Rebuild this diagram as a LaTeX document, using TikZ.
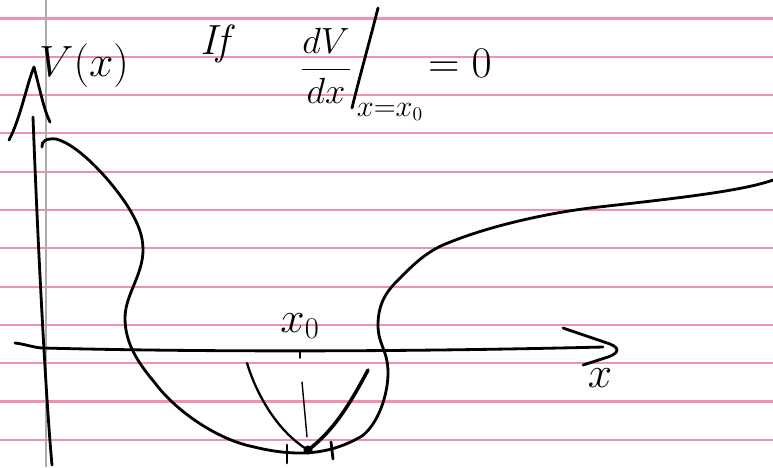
\documentclass[tikz,border=0pt]{standalone}
\usepackage{amsmath,amssymb}
\usepackage{tikz}
\usetikzlibrary{positioning}

\definecolor{rulepink}{RGB}{240,146,174}
\definecolor{margingray}{RGB}{172,172,172}

\tikzset{
  ink/.style={line width=1.6pt,line cap=round,line join=round},
  thinink/.style={line width=0.8pt,line cap=round},
  hand/.style={font=\fontsize{24}{28}\selectfont,inner sep=0pt},
}

\begin{document}
\begin{tikzpicture}[x=0.02cm,y=-0.02cm]
\useasboundingbox (0,0) rectangle (773,467);

% ruled paper
\foreach \k in {0,...,11}
  \draw[line width=1.2pt,rulepink] (0,18.5+38.3*\k) -- (773,18.5+38.3*\k);
\draw[line width=1.1pt,margingray] (46,0) -- (46,467);

% axes
\coordinate (ytop) at (34,67);
\coordinate (xtip) at (617,350);
\draw[ink] (33,117) .. controls (38,250) and (46,400) .. (52,465);
\draw[ink] (9,140) .. controls (20,120) and (28,80) .. (ytop)
           .. controls (40,90) and (44,110) .. (50,122);
\draw[ink] (15,343) .. controls (25,344) and (35,348) .. (43,348)
           .. controls (200,352) and (400,352) .. (603,347);
\draw[ink] (563,328) -- (610,344) .. controls (620,348) and (619,353) .. (608,357) -- (583,365);

% potential V(x)
\draw[ink] (42,147) .. controls (41,141) and (47,138) .. (56,139)
           .. controls (80,145) and (115,185) .. (130,210)
           .. controls (138,224) and (143,235) .. (143,250)
           .. controls (143,275) and (125,295) .. (125,318)
           .. controls (125,345) and (140,365) .. (155,383)
           .. controls (175,410) and (215,438) .. (250,446)
           .. controls (270,451) and (285,453) .. (300,453)
           .. controls (325,453) and (345,446) .. (362,436)
           .. controls (378,424) and (388,395) .. (388,373)
           .. controls (388,350) and (378,345) .. (378,325)
           .. controls (378,300) and (390,288) .. (400,278)
           .. controls (412,266) and (425,253) .. (443,245)
           .. controls (490,225) and (550,213) .. (590,208)
           .. controls (660,200) and (740,192) .. (773,180);

% parabola at the minimum
\coordinate (vmin) at (308,450);
\draw[ink,line width=1.3pt] (247,363) .. controls (255,390) and (275,430) .. (vmin);
\draw[ink,line width=2pt] (vmin) .. controls (335,430) and (352,400) .. (368,370);
\fill (vmin) circle (2.6pt);
\draw[ink] (287,445) -- (287,463);
\draw[ink] (331,442) -- (333,459);
\draw[thinink] (300,352) -- (300,358);
\draw[thinink] (302,382) -- (307,437);

% labels
\node[hand] (vlab) at (84,66) {$V(x)$};
\node[hand,font=\fontsize{28}{30}\selectfont] (xlab) at (600,378) {$x$};
\node[hand] (x0lab) at (300,326) {$x_0$};
\node[hand] (iflab) at (218,44) {\textit{If}};
\node[hand,font=\fontsize{20}{24}\selectfont] (dvdx) at (326,66) {$\dfrac{dV}{dx}$};
\draw[ink] (378,8) .. controls (370,40) and (360,75) .. (352,108);
\node[hand,font=\fontsize{16}{18}\selectfont] (evalat) at (390,112) {$x{=}x_0$};
\node[hand] (zero) at (460,63) {$=0$};
\end{tikzpicture}
\end{document}
